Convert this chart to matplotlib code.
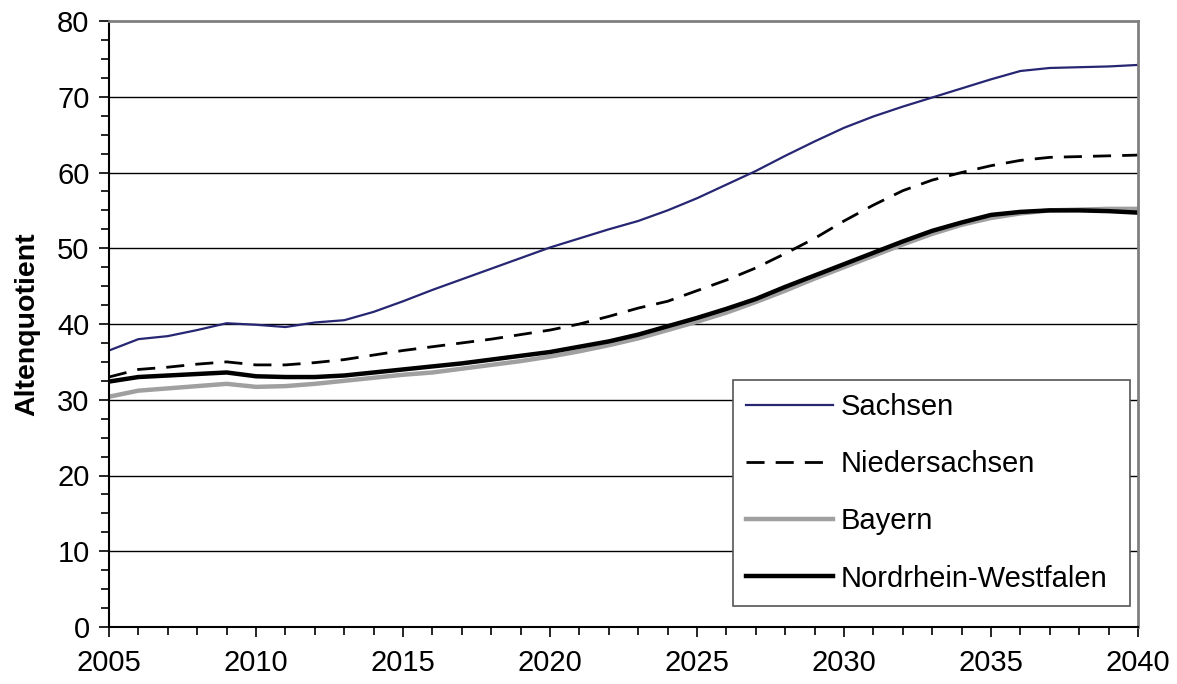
import matplotlib.pyplot as plt
from matplotlib.ticker import MultipleLocator
import numpy as np

plt.rcParams['font.family'] = ['Liberation Sans', 'DejaVu Sans']

years = list(range(2005, 2041))
sachsen = [36.5, 38.0, 38.4, 39.2, 40.1, 39.9, 39.6, 40.2, 40.5, 41.6,
           43.0, 44.5, 45.9, 47.3, 48.7, 50.1, 51.3, 52.5, 53.6, 55.0,
           56.6, 58.4, 60.2, 62.2, 64.1, 65.9, 67.4, 68.7, 69.9, 71.1,
           72.3, 73.4, 73.8, 73.9, 74.0, 74.2]
niedersachsen = [33.0, 34.0, 34.3, 34.7, 35.0, 34.6, 34.6, 34.9, 35.3, 35.9,
                 36.5, 37.0, 37.5, 38.0, 38.6, 39.2, 40.0, 41.0, 42.1, 43.0,
                 44.4, 45.8, 47.4, 49.3, 51.3, 53.6, 55.7, 57.6, 59.0, 60.0,
                 60.9, 61.6, 62.0, 62.1, 62.2, 62.3]
bayern = [30.4, 31.2, 31.5, 31.8, 32.1, 31.7, 31.8, 32.1, 32.5, 32.9,
          33.3, 33.6, 34.1, 34.6, 35.1, 35.7, 36.4, 37.2, 38.1, 39.2,
          40.3, 41.5, 42.9, 44.4, 46.0, 47.5, 49.0, 50.5, 51.9, 53.1,
          54.0, 54.6, 55.0, 55.1, 55.2, 55.2]
nrw = [32.4, 33.0, 33.2, 33.4, 33.6, 33.1, 33.0, 33.0, 33.2, 33.6,
       34.0, 34.4, 34.8, 35.3, 35.8, 36.3, 37.0, 37.7, 38.6, 39.7,
       40.8, 42.0, 43.3, 44.9, 46.4, 47.9, 49.4, 50.9, 52.3, 53.4,
       54.4, 54.8, 55.0, 55.0, 54.9, 54.7]

fig = plt.figure(figsize=(11.77, 6.84), dpi=100)
ax = fig.add_axes([109/1177, 57/684, 1029/1177, 606/684])

ax.plot(years, sachsen, color='#262673', lw=1.6, label='Sachsen')
ax.plot(years, niedersachsen, color='black', lw=2.0, dashes=(6.5, 4), label='Niedersachsen')
ax.plot(years, bayern, color='#a0a0a0', lw=3.2, label='Bayern')
ax.plot(years, nrw, color='black', lw=3.2, label='Nordrhein-Westfalen')

ax.set_xlim(2005, 2040)
ax.set_ylim(0, 80)
ax.xaxis.set_major_locator(MultipleLocator(5))
ax.xaxis.set_minor_locator(MultipleLocator(1))
ax.yaxis.set_major_locator(MultipleLocator(10))
ax.yaxis.set_minor_locator(MultipleLocator(2.5))
ax.tick_params(axis='both', which='major', direction='out', length=7, width=1.2,
               labelsize=21, colors='black')
ax.tick_params(axis='both', which='minor', direction='out', length=6, width=1.2)
ax.tick_params(axis='x', pad=9)
ax.tick_params(axis='y', pad=7)

for y in range(10, 80, 10):
    ax.axhline(y, color='black', lw=1.0, zorder=0)

ax.spines['left'].set_linewidth(1.5)
ax.spines['bottom'].set_linewidth(1.5)
ax.spines['top'].set_color('#808080')
ax.spines['right'].set_color('#808080')
ax.spines['top'].set_linewidth(2)
ax.spines['right'].set_linewidth(2)

ax.set_ylabel('Altenquotient', fontsize=20.5, fontweight='bold', labelpad=12)

leg = ax.legend(loc='lower left', bbox_to_anchor=(0.606, 0.035, 0.386, 0.371),
                mode='expand', fontsize=21, frameon=True, fancybox=False,
                handlelength=3.0, handletextpad=0.25, labelspacing=1.0,
                borderpad=0.45, borderaxespad=0)
leg.get_frame().set_edgecolor('#555555')
leg.get_frame().set_linewidth(1.2)
leg.get_frame().set_alpha(1)

fig.savefig('out.png', dpi=100)
